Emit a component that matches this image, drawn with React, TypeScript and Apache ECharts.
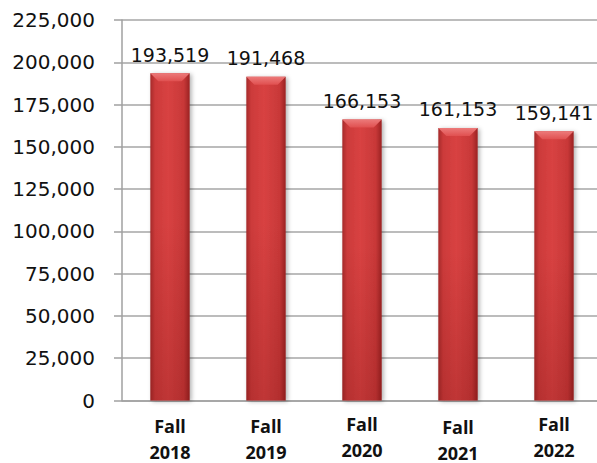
import React, { useEffect, useRef } from "react";
import * as echarts from "echarts";

const categories = ["Fall\n2018", "Fall\n2019", "Fall\n2020", "Fall\n2021", "Fall\n2022"];
const enrollment = [193519, 191468, 166153, 161153, 159141];
const labelOffsets = [0, 0, -2, 1, -2];

export default function App() {
  const ref = useRef<HTMLDivElement>(null);
  useEffect(() => {
    const chart = echarts.init(ref.current!, null, { renderer: "svg" });
    chart.setOption({
      animation: false,
      grid: {
        left: 122,
        top: 20,
        width: 480,
        height: 380.5,
        containLabel: false,
        outerBoundsMode: "none",
      },
      xAxis: {
        type: "category",
        data: categories.map((c, i) => ({
          value: c,
          textStyle: { padding: [labelOffsets[i], 0, 0, 0] },
        })),
        axisTick: { show: false },
        axisLine: { lineStyle: { color: "#a0a0a0", width: 1.5 } },
        axisLabel: {
          fontFamily: "Open Sans",
          fontWeight: "bold",
          fontSize: 18,
          color: "#111",
          lineHeight: 26,
          margin: 12,
        },
      },
      yAxis: {
        type: "value",
        min: 0,
        max: 225000,
        interval: 25000,
        axisLine: { show: true, lineStyle: { color: "#a0a0a0", width: 1.5 } },
        axisTick: { show: true, length: 8, lineStyle: { color: "#a0a0a0", width: 1.5 } },
        splitLine: { lineStyle: { color: "#a6a6a6", width: 1.5 } },
        axisLabel: {
          fontFamily: "DejaVu Sans",
          fontSize: 20,
          color: "#111",
          margin: 27,
          formatter: (v: number) => v.toLocaleString("en-US"),
        },
      },
      series: [
        {
          type: "custom",
          data: enrollment.map((v, i) => [i, v]),
          encode: { x: 0, y: 1 },
          renderItem: (params: any, api: any) => {
            const idx = api.value(0);
            const v = api.value(1);
            const top = api.coord([idx, v]);
            const base = api.coord([idx, 0]);
            const bw = api.size([1, 0])[0] * 0.41;
            const left = top[0] - bw / 2;
            const h = base[1] - top[1];
            const bev = 8;
            return {
              type: "group",
              children: [
                {
                  type: "rect",
                  shape: { x: left, y: top[1], width: bw, height: h },
                  style: {
                    fill: new echarts.graphic.LinearGradient(0, 0, 1, 0, [
                      { offset: 0, color: "#a52a2a" },
                      { offset: 0.12, color: "#cc3a3a" },
                      { offset: 0.45, color: "#d84242" },
                      { offset: 0.85, color: "#c83838" },
                      { offset: 1, color: "#9a2424" },
                    ]),
                    shadowBlur: 4,
                    shadowOffsetX: 2,
                    shadowOffsetY: 1,
                    shadowColor: "rgba(0,0,0,0.3)",
                  },
                },
                {
                  type: "rect",
                  shape: { x: left, y: top[1] + h * 0.45, width: bw, height: h * 0.55 },
                  style: {
                    fill: new echarts.graphic.LinearGradient(0, 0, 0, 1, [
                      { offset: 0, color: "rgba(80,0,0,0)" },
                      { offset: 1, color: "rgba(80,0,0,0.18)" },
                    ]),
                  },
                },
                {
                  type: "polygon",
                  shape: {
                    points: [
                      [left, top[1]],
                      [left + bw, top[1]],
                      [left + bw - bev, top[1] + bev],
                      [left + bev, top[1] + bev],
                    ],
                  },
                  style: {
                    fill: new echarts.graphic.LinearGradient(0, 0, 0, 1, [
                      { offset: 0, color: "#ec7a7a" },
                      { offset: 1, color: "#e05050" },
                    ]),
                  },
                },
                {
                  type: "text",
                  style: {
                    text: Number(v).toLocaleString("en-US"),
                    x: top[0],
                    y: top[1] - 9,
                    align: "center",
                    verticalAlign: "bottom",
                    fontFamily: "DejaVu Sans",
                    fontSize: 19,
                    fill: "#111",
                  },
                },
              ],
            };
          },
        },
      ],
    });
    return () => chart.dispose();
  }, []);
  return (
    <div
      ref={ref}
      style={{ position: "absolute", left: 0, top: 0, width: 597, height: 463, background: "#fff" }}
    />
  );
}
